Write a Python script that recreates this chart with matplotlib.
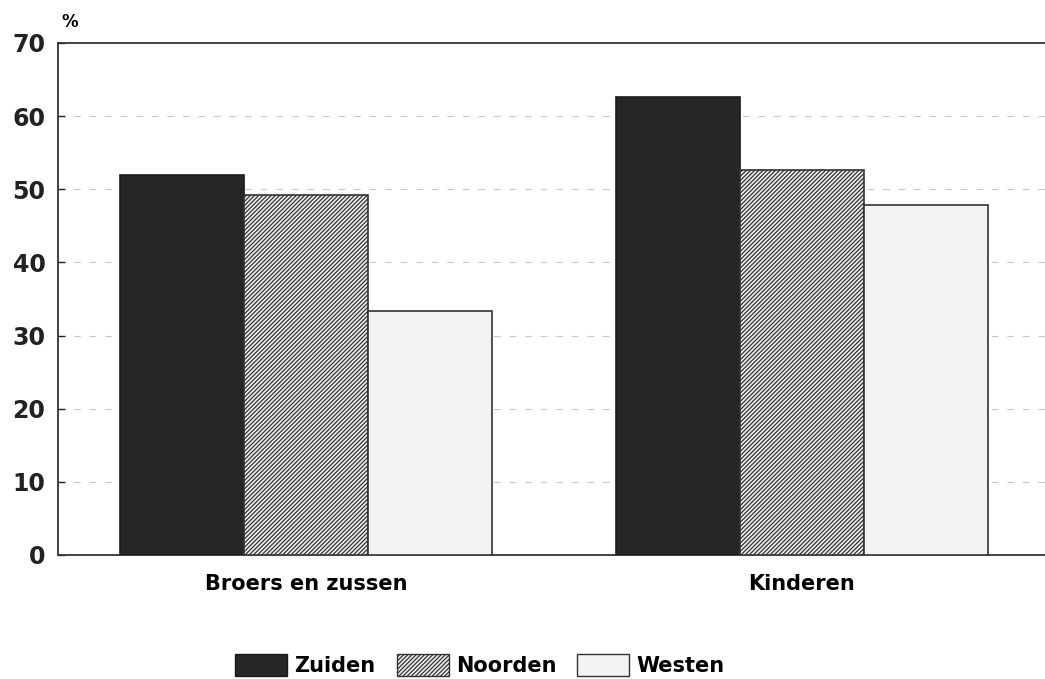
import numpy as np
import matplotlib.pyplot as plt
from matplotlib.patches import Patch

groups = ["Broers en zussen", "Kinderen"]
series = ["Zuiden", "Noorden", "Westen"]
values = {
    "Zuiden": [52.0, 62.6],
    "Noorden": [49.2, 52.6],
    "Westen": [33.3, 47.8],
}
yticks = [0, 10, 20, 30, 40, 50, 60, 70]

plt.rcParams['font.family'] = ['DejaVu Sans']
plt.rcParams['hatch.linewidth'] = 0.9

styles = {
    "Zuiden": dict(facecolor="#262626", edgecolor="#1a1a1a", hatch=None),
    "Noorden": dict(facecolor="#eeeeee", edgecolor="#333333", hatch="////////"),
    "Westen": dict(facecolor="#f3f3f3", edgecolor="#333333", hatch=None),
}

fig = plt.figure(figsize=(10.45, 6.79), dpi=100)
ax = fig.add_axes([58/1045, 1 - 555/679, 1 - 58/1045, (555 - 43)/679])

x = np.arange(len(groups))
w = 0.25
for i, s in enumerate(series):
    st = styles[s]
    ax.bar(x + (i - 1) * w, values[s], width=w, facecolor=st["facecolor"],
           edgecolor=st["edgecolor"], hatch=st["hatch"], linewidth=1.2, zorder=3)

ax.set_xlim(-0.5, 1.49)
ax.set_ylim(0, 70)
ax.set_yticks(yticks)
ax.set_yticklabels([str(t) for t in yticks], fontsize=17, fontweight="bold")
ax.set_xticks(x)
ax.set_xticklabels(groups, fontsize=15, fontweight="bold")
ax.tick_params(axis="x", length=0, pad=14)
ax.tick_params(axis="y", direction="in", length=5, width=1, pad=9, colors="#222222")

for t in yticks[1:-1]:
    ax.axhline(t, color="#c8c8c8", linestyle=(0, (6, 8)), linewidth=0.8, zorder=1)

ax.spines["right"].set_visible(False)
for sp in ["left", "bottom", "top"]:
    ax.spines[sp].set_linewidth(1.3)
    ax.spines[sp].set_color("#333333")

fig.text(62/1045, 1 - 22/679, "%", fontsize=12, fontweight="bold", ha="left", va="center")

handles = [Patch(facecolor=styles[s]["facecolor"], edgecolor=styles[s]["edgecolor"],
                 hatch=styles[s]["hatch"], linewidth=1.0) for s in series]
fig.legend(handles, series, loc="center", bbox_to_anchor=(480/1045, 1 - 665/679), ncol=3,
           frameon=False, prop={"size": 15, "weight": "bold"}, handlelength=2.5,
           handleheight=1.3, handletextpad=0.35, columnspacing=1.0)

fig.savefig("out.png", dpi=100, facecolor="white")
